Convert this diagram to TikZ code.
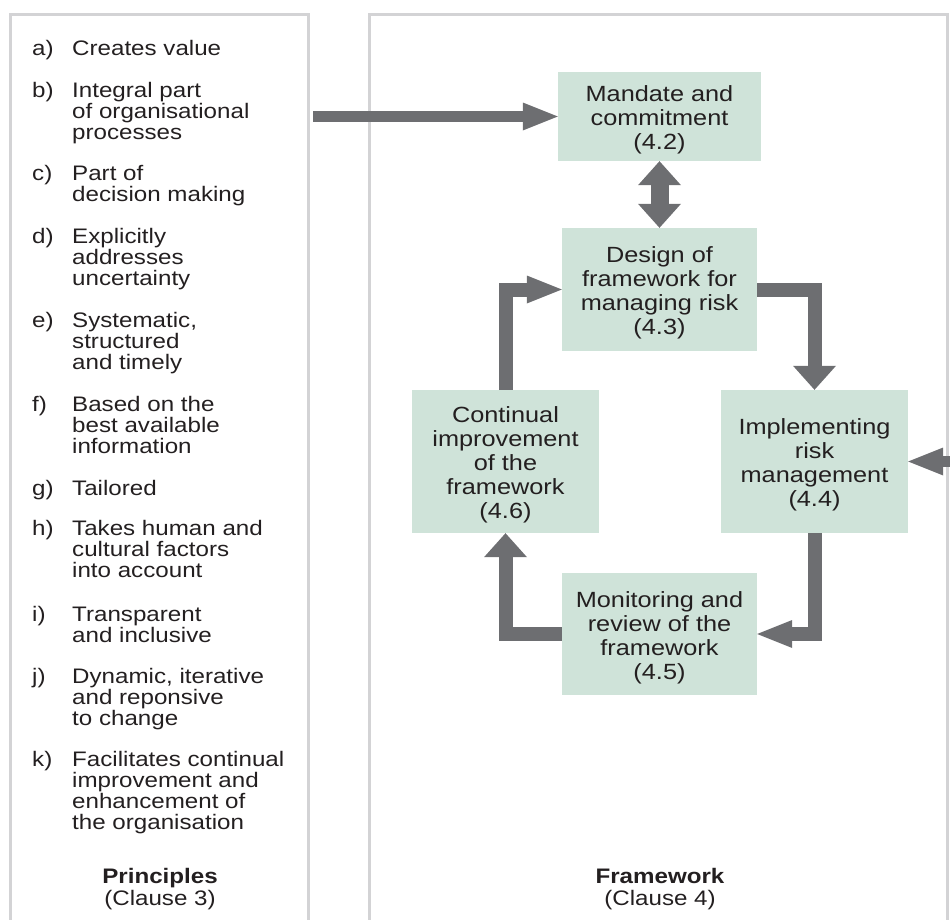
\documentclass[tikz,border=0pt]{standalone}
\usepackage{fontspec}
\setmainfont{Liberation Sans}[FakeStretch=1.15]
\usetikzlibrary{arrows.meta}
\definecolor{clausefill}{HTML}{CFE3D9}
\definecolor{flowgrey}{HTML}{6D6E71}
\definecolor{framegrey}{HTML}{D3D3D5}
\definecolor{inkdark}{HTML}{231F20}
\newcommand{\firstline}{\rule{0pt}{16pt}}
\newcommand{\clausetop}{\rule{0pt}{23pt}}
\tikzset{panel/.style={draw=framegrey,line width=3pt,fill=none,
                       minimum width=#1,minimum height=921pt}}
\tikzset{clause/.style={fill=clausefill,text=inkdark,align=center,
                        inner sep=0pt,font=\fontsize{22}{24}\selectfont}}
\tikzset{item/.style={text=inkdark,align=left,inner sep=0pt,
                      font=\fontsize{21}{21}\selectfont}}
\tikzset{caption/.style={text=inkdark,align=center,inner sep=0pt,
                         anchor=base,font=\fontsize{21}{22}\selectfont}}
\tikzset{flow/.style={draw=flowgrey,line width=14pt,line join=miter}}
\tikzset{hhead/.tip={Triangle[length=35pt,width=28pt,line width=0pt]}}
\tikzset{vhead/.tip={Triangle[length=24pt,width=43pt,line width=0pt]}}

\begin{document}
\begin{tikzpicture}[x=1pt,y=-1pt]
    \useasboundingbox (0,0) rectangle (950,919);
    % Draw the two panels
    \node[panel=298.5pt] (prin) at (159.25,474.5) {};
    \node[panel=578pt] (frame) at (658,474.5) {};
    % List of principles
    \foreach \lab/\txt/\y [count=\i] in {%
        a)/{Creates value}/55,
        b)/{Integral part\\of organisational\\processes}/97,
        c)/{Part of\\decision making}/180,
        d)/{Explicitly\\addresses\\uncertainty}/243,
        e)/{Systematic,\\structured\\and timely}/327,
        f)/{Based on the\\best available\\information}/411,
        g)/{Tailored}/495,
        h)/{Takes human and\\cultural factors\\into account}/535,
        i)/{Transparent\\and inclusive}/621,
        j)/{Dynamic, iterative\\and reponsive\\to change}/683,
        k)/{Facilitates continual\\improvement and\\enhancement of\\the organisation}/766}{%
          \node[item,anchor=base west] (lab\i) at (32,\y) {\lab};
          \node[item,anchor=north west] (txt\i) at (72,\y-16) {\firstline\txt};
        }
    % Panel captions
    \node[caption] (prinname) at (160,905) {\textbf{Principles}\\(Clause 3)};
    \node[caption] (framename) at (660,905) {\textbf{Framework}\\(Clause 4)};
    % Draw the framework clauses
    \node[clause,minimum width=203pt,minimum height=89pt] (mand) at (659.5,116.5)
        {\clausetop Mandate and\\commitment\\(4.2)};
    \node[clause,minimum width=195pt,minimum height=123pt] (design) at (659.5,289.5)
        {\clausetop Design of\\framework for\\managing risk\\(4.3)};
    \node[clause,minimum width=187pt,minimum height=143pt] (improve) at (505.5,461.5)
        {\clausetop Continual\\improvement\\of the\\framework\\(4.6)};
    \node[clause,minimum width=187pt,minimum height=143pt] (implement) at (814.5,461.5)
        {\clausetop Implementing\\risk\\management\\(4.4)};
    \node[clause,minimum width=195pt,minimum height=122pt] (monitor) at (659.5,634)
        {\clausetop Monitoring and\\review of the\\framework\\(4.5)};
    % Arrows coming in from outside
    \coordinate (feed) at (313,116.5);
    \coordinate (return) at (965,461.5);
    \draw[flow,line width=11pt,-hhead] (feed) -- (mand);
    \draw[flow,line width=11pt,-hhead] (return) -- (implement);
    % Mandate <-> design
    \draw[flow,line width=18pt,vhead-vhead] (mand) -- (design);
    % The improvement loop
    \draw[flow,-vhead] (design) -| (implement);
    \draw[flow,-hhead] (implement) |- (monitor);
    \draw[flow,-vhead] (monitor) -| (improve);
    \draw[flow,-hhead] (improve) |- (design);
\end{tikzpicture}
\end{document}
